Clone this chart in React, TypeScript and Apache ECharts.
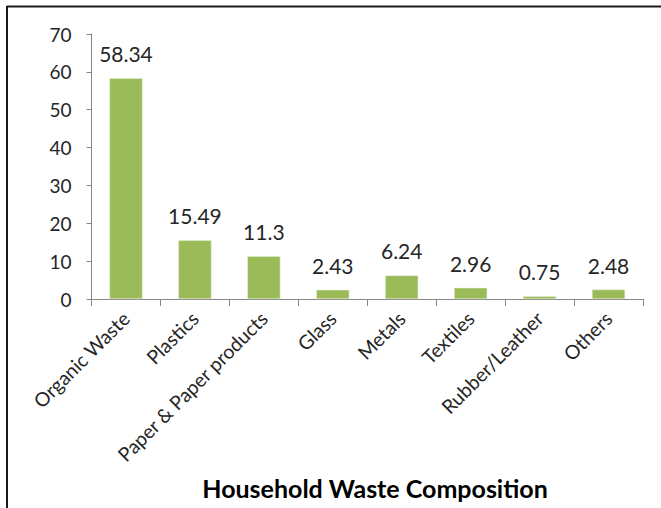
import React, { useEffect, useRef } from "react";
import * as echarts from "echarts";

const categories = [
  "Organic Waste",
  "Plastics",
  "Paper & Paper products",
  "Glass",
  "Metals",
  "Textiles",
  "Rubber/Leather",
  "Others",
];
const values = [58.34, 15.49, 11.3, 2.43, 6.24, 2.96, 0.75, 2.48];
const chartTitle = "Household Waste Composition";

const FONT = "Lato, 'Open Sans', sans-serif";
const TEXT = "#262626";

export default function App() {
  const ref = useRef<HTMLDivElement>(null);
  useEffect(() => {
    if (!ref.current) return;
    const chart = echarts.init(ref.current, undefined, { renderer: "svg" });
    chart.setOption({
      animation: false,
      backgroundColor: "#ffffff",
      textStyle: { fontFamily: FONT },
      grid: { left: 91.5, right: 18, top: 34, bottom: 209 },
      title: {
        text: chartTitle,
        left: 370,
        top: 470,
        textAlign: "center",
        textStyle: { fontFamily: FONT, fontSize: 25, fontWeight: "bold", color: "#000000" },
      },
      xAxis: {
        type: "category",
        data: categories,
        axisLine: { show: true, lineStyle: { color: "#868686", width: 1 } },
        axisTick: { show: true, alignWithLabel: false, length: 7, lineStyle: { color: "#868686" } },
        axisLabel: {
          rotate: 45,
          interval: 0,
          margin: 16,
          fontSize: 19.5,
          color: TEXT,
          fontFamily: FONT,
        },
        splitLine: { show: false },
      },
      yAxis: {
        type: "value",
        min: 0,
        max: 70,
        interval: 10,
        axisLine: { show: true, lineStyle: { color: "#868686", width: 1 } },
        axisTick: { show: true, length: 5, lineStyle: { color: "#868686" } },
        axisLabel: { fontSize: 19, color: TEXT, margin: 20, fontFamily: FONT },
        splitLine: { show: false },
      },
      series: [
        {
          type: "bar",
          data: values,
          barCategoryGap: "52%",
          itemStyle: { color: "#9BBB59", borderColor: "#e9f0dc", borderWidth: 0.5 },
          label: {
            show: true,
            position: "top",
            distance: 14,
            fontSize: 21,
            color: TEXT,
            fontFamily: FONT,
          },
        },
      ],
      graphic: [
        {
          type: "line",
          shape: { x1: 7, y1: 6.5, x2: 661, y2: 6.5 },
          style: { stroke: "#1a1a1a", lineWidth: 2 },
        },
        {
          type: "line",
          shape: { x1: 7, y1: 6, x2: 7, y2: 508 },
          style: { stroke: "#1a1a1a", lineWidth: 2 },
        },
      ],
    });
    return () => chart.dispose();
  }, []);
  return (
    <div
      ref={ref}
      style={{ position: "absolute", left: 0, top: 0, width: 661, height: 508 }}
    />
  );
}
